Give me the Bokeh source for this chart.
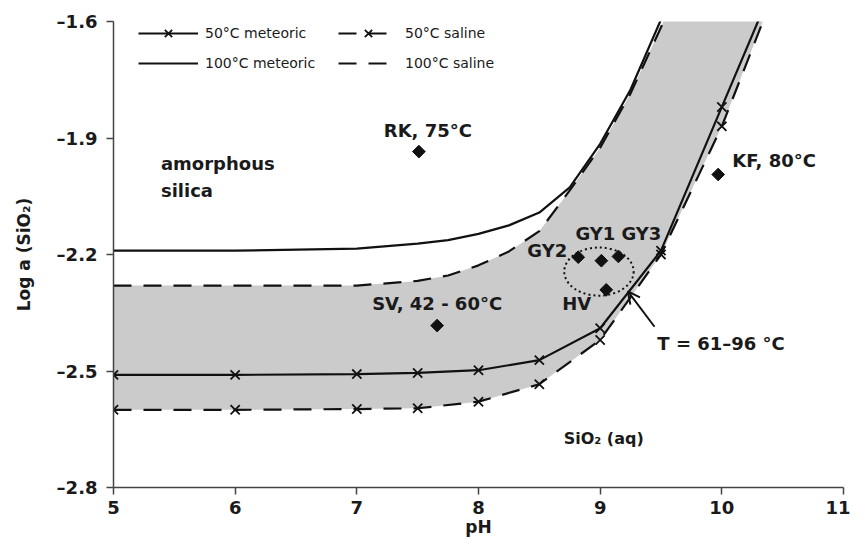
from math import pi
from bokeh.plotting import figure
from bokeh.models import Range1d, FixedTicker, Legend, LegendItem, Arrow, OpenHead
from bokeh.core.properties import value
from bokeh.embed import file_html
from bokeh.resources import INLINE

# ---------------- data ----------------
ph_50 = [5, 6, 7, 7.5, 8, 8.5, 9, 9.5, 10, 10.5]
log_50_meteoric = [-2.51, -2.51, -2.508, -2.505, -2.498, -2.472, -2.39, -2.19, -1.82, -1.45]
log_50_saline = [-2.60, -2.60, -2.598, -2.596, -2.579, -2.534, -2.42, -2.20, -1.87, -1.47]

ph_100 = [5, 6, 7, 7.5, 7.75, 8, 8.25, 8.5, 8.75, 9, 9.25, 9.5, 9.75]
log_100_meteoric = [-2.19, -2.19, -2.185, -2.172, -2.163, -2.147, -2.125, -2.092, -2.027,
                    -1.915, -1.775, -1.595, -1.40]
log_100_saline = [-2.28, -2.28, -2.28, -2.268, -2.254, -2.228, -2.192, -2.14, -2.035,
                  -1.925, -1.785, -1.615, -1.42]

site_labels = ["RK, 75°C", "KF, 80°C", "SV, 42 - 60°C", "GY2", "GY1", "GY3", "HV"]
site_ph = [7.51, 9.97, 7.66, 8.82, 9.01, 9.15, 9.05]
site_log = [-1.935, -1.994, -2.383, -2.207, -2.216, -2.205, -2.291]

x_ticks = [5, 6, 7, 8, 9, 10, 11]
y_ticks = [-2.8, -2.5, -2.2, -1.9, -1.6]
y_tick_labels = ["–2.8", "–2.5", "–2.2", "–1.9", "–1.6"]

# ---------------- styling / layout ----------------
FONT = "DejaVu Sans"
INK = "#111111"
TXT = "#1a1a1a"
AXIS = "#444444"
DASH = "18 12"

p = figure(width=850, height=542, output_backend="svg", toolbar_location=None,
           x_range=Range1d(5, 11), y_range=Range1d(-2.8, -1.6),
           min_border_left=113, min_border_right=7, min_border_top=21, min_border_bottom=55,
           background_fill_color="white", border_fill_color="white")
p.outline_line_color = None
p.grid.visible = False

for ax in (p.xaxis[0], p.yaxis[0]):
    ax.axis_line_color = AXIS
    ax.axis_line_width = 1.5
    ax.major_tick_line_color = AXIS
    ax.major_tick_line_width = 1.5
    ax.major_tick_out = 7
    ax.major_tick_in = 0
    ax.minor_tick_line_color = None
    ax.major_label_text_font = FONT
    ax.major_label_text_font_style = "bold"
    ax.major_label_text_font_size = "18px"
    ax.major_label_text_color = TXT
    ax.axis_label_text_font = FONT
    ax.axis_label_text_font_style = "bold"
    ax.axis_label_text_font_size = "17px"
    ax.axis_label_text_color = TXT

p.xaxis.ticker = FixedTicker(ticks=x_ticks)
p.yaxis.ticker = FixedTicker(ticks=y_ticks)
p.yaxis.major_label_overrides = {t: l for t, l in zip(y_ticks, y_tick_labels)}
p.xaxis.axis_label = "pH"
p.yaxis.axis_label = "Log a (SiO₂)"
p.xaxis.major_label_standoff = 6
p.xaxis.axis_label_standoff = 0
p.yaxis.major_label_standoff = 9
p.yaxis.axis_label_standoff = 20

# shaded stability band: between 100 °C saline (top) and 50 °C saline (bottom)
band_x = ph_100 + ph_50[::-1]
band_y = log_100_saline + log_50_saline[::-1]
p.patch(band_x, band_y, fill_color="#cbcbcb", line_color=None)

# curves
r_100m = p.line(ph_100, log_100_meteoric, line_color=INK, line_width=2.2)
r_100s = p.line(ph_100, log_100_saline, line_color=INK, line_width=2.2, line_dash=DASH)
r_50m = p.line(ph_50, log_50_meteoric, line_color=INK, line_width=2.2)
r_50s = p.line(ph_50, log_50_saline, line_color=INK, line_width=2.2, line_dash=DASH)
x_50m = p.scatter(ph_50, log_50_meteoric, marker="x", size=13, line_color=INK, line_width=1.8)
x_50s = p.scatter(ph_50, log_50_saline, marker="x", size=13, line_color=INK, line_width=1.8)

# dotted cluster ellipse around the GY / HV springs
p.ellipse(x=[8.99], y=[-2.244], width=0.57, height=0.124, fill_color=None,
          line_color=INK, line_width=2, line_dash="2 3")

# sample sites
p.scatter(site_ph, site_log, marker="square", angle=pi / 4, size=9,
          fill_color=INK, line_color=INK)

label_align = ["center", "left", "center", "right", "center", "left", "right"]
label_dx = [9, 14, 0, -11, -6, 3, -15]
label_dy = [-21, -14, -22, -7, -27, -23, 14]
p.text(site_ph, site_log, text=site_labels, x_offset=label_dx, y_offset=label_dy,
       text_align=label_align, text_baseline="middle", text_font=value(FONT),
       text_font_style="bold", text_font_size="18px", text_color=TXT)

# field labels
p.text([5.39, 5.39], [-1.966, -2.035], text=["amorphous", "silica"], text_align="left",
       text_baseline="middle", text_font=value(FONT), text_font_style="bold",
       text_font_size="18px", text_color=TXT)
p.text([8.70], [-2.674], text=["SiO₂ (aq)"], text_align="left", text_baseline="middle",
       text_font=value(FONT), text_font_style="bold", text_font_size="16px",
       text_color=TXT)
p.text([9.47], [-2.428], text=["T = 61–96 °C"], text_align="left", text_baseline="middle",
       text_font=value(FONT), text_font_style="bold", text_font_size="18px",
       text_color=TXT)
p.add_layout(Arrow(end=OpenHead(size=12, line_color=INK, line_width=2),
                   x_start=9.447, y_start=-2.386, x_end=9.228, y_end=-2.295,
                   line_color=INK, line_width=2))

# legends (two columns)
def make_legend(items, loc):
    lg = Legend(items=items, location=loc, orientation="vertical",
                glyph_width=60, glyph_height=26, spacing=4, padding=0, margin=0,
                label_standoff=7, label_text_font=FONT, label_text_font_size="14px",
                label_text_color=TXT, border_line_color=None,
                background_fill_alpha=0)
    p.add_layout(lg)

make_legend([LegendItem(label="50°C meteoric", renderers=[r_50m, x_50m]),
             LegendItem(label="100°C meteoric", renderers=[r_100m])], (25, 411))
make_legend([LegendItem(label="50°C saline", renderers=[r_50s, x_50s]),
             LegendItem(label="100°C saline", renderers=[r_100s])], (225, 411))

open("out.html", "w").write(file_html(p, INLINE))
